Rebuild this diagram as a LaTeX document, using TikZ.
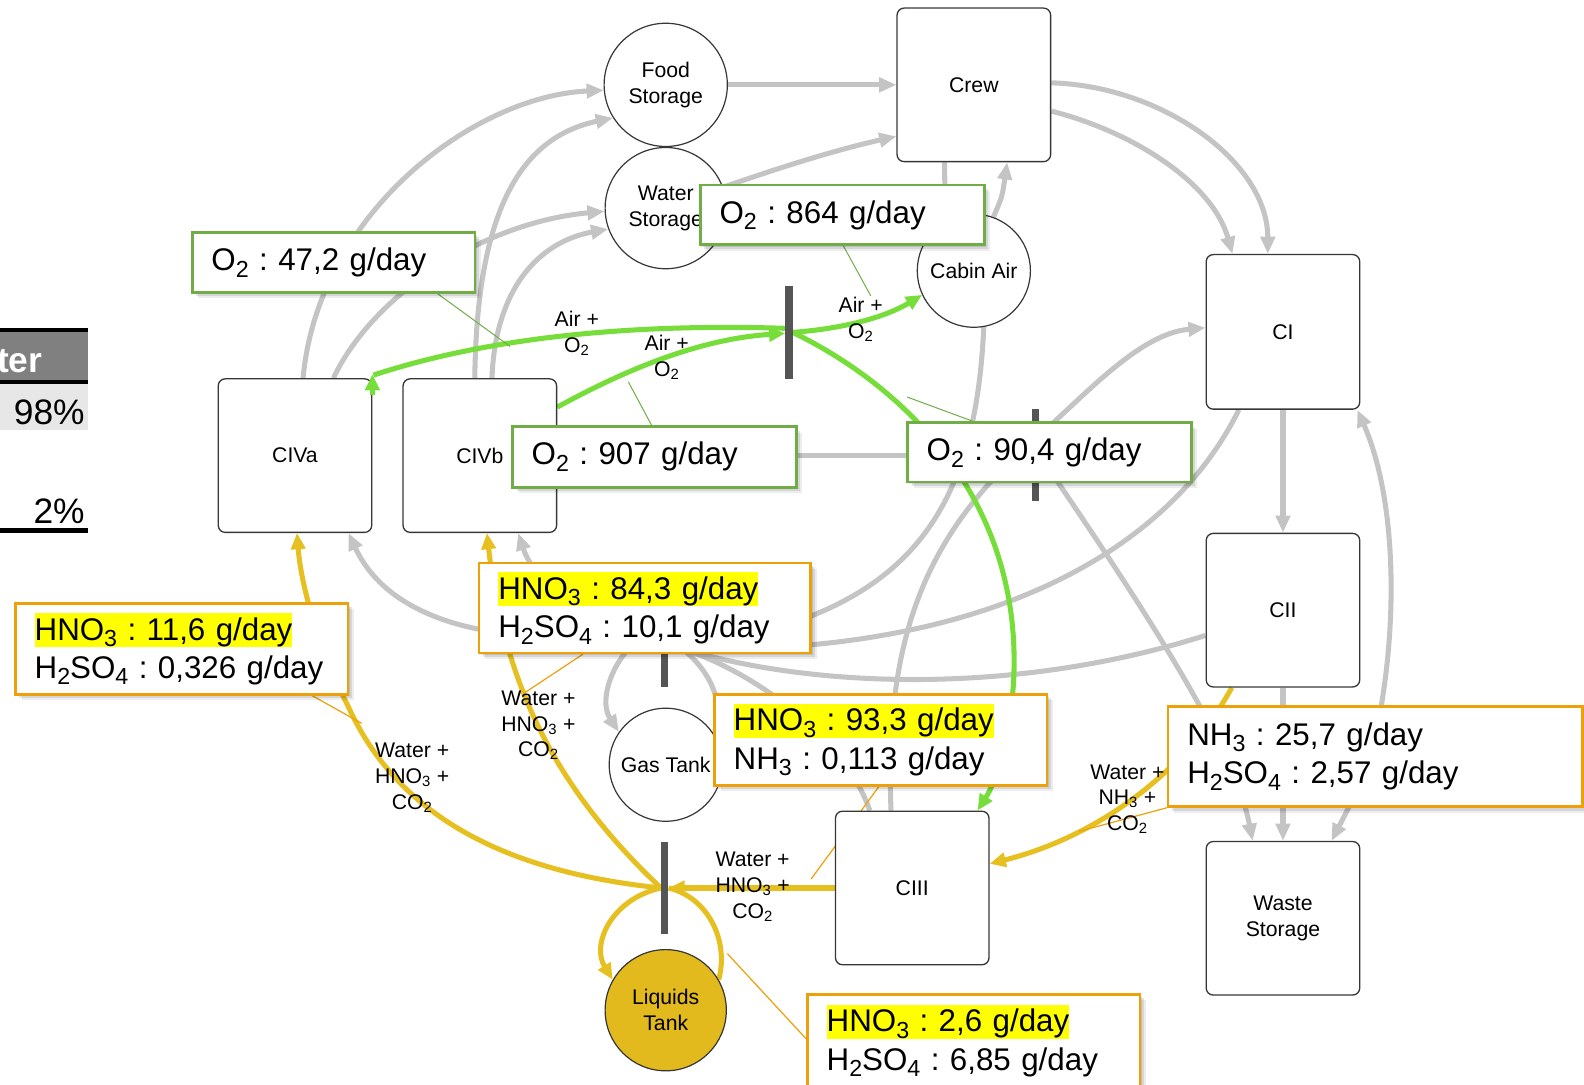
\documentclass[tikz,border=0pt]{standalone}
\usepackage{fontspec}
\setmainfont{Liberation Sans}
\usetikzlibrary{arrows.meta,calc,shadows}

\definecolor{flowgray}{RGB}{196,196,196}
\definecolor{airgreen}{RGB}{118,221,58}
\definecolor{liquidgold}{RGB}{230,192,32}
\definecolor{tankgold}{RGB}{226,186,30}
\definecolor{boxgreen}{RGB}{112,173,71}
\definecolor{boxorange}{RGB}{236,160,10}
\definecolor{markyellow}{RGB}{255,255,0}
\definecolor{barfill}{RGB}{85,85,85}
\definecolor{outline}{RGB}{55,55,55}
\definecolor{headgray}{RGB}{128,128,128}
\definecolor{rowgray}{RGB}{231,231,231}

\frenchspacing
\newcommand\calloutfont{\fontsize{31}{38}\selectfont}
\newcommand\unitfont{\fontsize{21}{26}\selectfont}
\newcommand\flowfont{\fontsize{21}{25.5}\selectfont}
\newcommand\tablefont{\fontsize{35}{40}\selectfont}
\newcommand\hlight[1]{{\setlength{\fboxsep}{0pt}\colorbox{markyellow}{\rule[-7pt]{0pt}{34pt}#1}}}
% subscripts: small ones for flow labels, larger ones for the callouts
\newcommand\chem[1]{\textsubscript{#1}}
\newcommand\csub[1]{\raisebox{-6.5pt}{\fontsize{23}{23}\selectfont #1}}

\pgfdeclarelayer{flows}
\pgfsetlayers{flows,main}

\begin{document}
\begin{tikzpicture}[x=1pt,y=-1pt,
  unit/.style={rectangle, draw=outline, line width=1.3pt, rounded corners=7pt, fill=white,
    minimum width=152pt, minimum height=152pt, inner sep=0pt, font=\unitfont, align=center},
  tank/.style={circle, draw=outline, line width=1.2pt, fill=white, inner sep=0pt,
    font=\unitfont, align=center},
  sepbar/.style={rectangle, fill=barfill, minimum width=7pt, inner sep=0pt},
  gflow/.style={draw=flowgray, line width=5pt},
  garr/.style={gflow, -{Triangle[length=17pt,width=14pt]}},
  aflow/.style={draw=airgreen, line width=5pt},
  aarr/.style={aflow, -{Triangle[length=16pt,width=14pt]}},
  lflow/.style={draw=liquidgold, line width=5pt},
  larr/.style={lflow, -{Triangle[length=16pt,width=14pt]}},
  flowlabel/.style={font=\flowfont, align=center, inner sep=0pt},
  callout/.style={rectangle, fill=white, line width=2.6pt, anchor=north west, align=left,
    inner xsep=19pt, inner ysep=0pt, font=\calloutfont,
    general shadow={shadow xshift=6pt, shadow yshift=-6pt, fill=black, opacity=0.07},
    general shadow={shadow xshift=4pt, shadow yshift=-4pt, fill=black, opacity=0.10},
    general shadow={shadow xshift=2pt, shadow yshift=-2pt, fill=black, opacity=0.10}},
  gcall/.style={callout, draw=boxgreen},
  ocall/.style={callout, draw=boxorange},
  gpointer/.style={draw=boxgreen, line width=1pt},
  opointer/.style={draw=boxorange, line width=1.2pt},
]
\useasboundingbox (0,0) rectangle (1568,1074);

% ---- table fragment on the left edge
\fill[black] (0,325) rectangle (87,329);
\fill[headgray] (0,329) rectangle (87,376);
\fill[black] (0,376) rectangle (87,380);
\fill[rowgray] (0,380) rectangle (87,426);
\fill[black] (0,523) rectangle (87,528);
\node[anchor=base east, font=\tablefont\bfseries, text=white, inner sep=0pt] (thead) at (42,369) {ter};
\node[anchor=base east, font=\tablefont, inner sep=0pt] (tvalA) at (84,420) {98\%};
\node[anchor=base east, font=\tablefont, inner sep=0pt] (tvalB) at (84,518) {2\%};

% ---- compartments and tanks
\node[unit] (CIVa) at (292,451) {CIVa};
\node[unit] (CIVb) at (475,451) {CIVb};
\node[unit] (Crew) at (964,84) {Crew};
\node[unit, minimum height=153pt] (CI) at (1270,328.5) {CI};
\node[unit] (CII) at (1270,604) {CII};
\node[unit] (Waste) at (1270,909) {Waste\\Storage};
\node[unit] (CIII) at (903,879) {CIII};
\node[tank, minimum size=122pt] (Food) at (659,84) {Food\\Storage};
\node[tank, minimum size=120pt] (Water) at (659,206) {Water\\Storage};
\node[tank, minimum size=112pt] (Cabin) at (964,268) {Cabin Air};
\node[tank, minimum size=112pt] (Gas) at (659,757) {Gas Tank};
\node[tank, minimum size=120pt, fill=tankgold] (Liquids) at (659,1000) {Liquids\\Tank};

% ---- separators
\node[sepbar, minimum height=92pt] (bar1) at (781,329) {};
\node[sepbar, minimum height=91pt] (bar2) at (1025,450) {};
\node[sepbar, minimum height=60pt] (bar3) at (658,650) {};
\node[sepbar, minimum height=92pt] (bar4) at (658,879) {};

\coordinate (hub3) at (675,642);
\coordinate (rjoin) at (1356,752);

\begin{pgfonlayer}{flows}
  % gray flows
  \draw[garr] (Food.east) -- (Crew.west |- Food.east);
  \draw[garr] (Water.20) .. controls (760,170) and (820,150) .. ($(Crew.west)+(0,51)$);
  \draw[garr] ($(CIVa.north)+(8,0)$) .. controls (315,210) and (470,95) .. (Food.185);
  \draw[garr] ($(CIVa.north)+(38,0)$) .. controls (370,290) and (480,220) .. (Water.183);
  \draw[garr] ($(CIVb.north)+(-5,0)$) .. controls (472,200) and (520,135) .. (Food.212);
  \draw[garr] ($(CIVb.north)+(12,0)$) .. controls (490,290) and (530,240) .. (Water.200);
  \draw[garr] ($(Crew.east)+(0,-2)$) .. controls (1150,85) and (1255,160) .. ($(CI.north)+(-15,0)$);
  \draw[garr] ($(Crew.east)+(0,26)$) .. controls (1120,130) and (1200,180) .. ($(CI.north)+(-50,0)$);
  \draw[garr] (Cabin.70) .. controls (992,195) .. ($(Crew.south)+(33,0)$);
  \draw[gflow] ($(Crew.south)+(-29,0)$) -- (Cabin.120);
  \draw[gflow] (Cabin.-80) .. controls (965,520) and (890,610) .. (hub3);
  \draw[garr] ($(CIII.north)+(-21,0)$) .. controls (876,640) and (910,530) .. (1030,430)
              .. controls (1080,385) and (1130,330) .. ($(CI.west)+(0,-4)$);
  \draw[gflow] ($(CI.south west)+(33,0)$) .. controls (1150,560) and (950,650) .. (hub3);
  \draw[gflow] ($(CII.west)+(0,25)$) .. controls (1000,690) and (800,680) .. (hub3);
  \draw[gflow] (hub3) .. controls (760,670) and (840,740) .. ($(CIII.north)+(-42,0)$);
  \draw[garr] (bar3.north west) .. controls (612,635) and (590,690) .. (Gas.145);
  \draw[gflow] (Gas.30) .. controls (718,700) and (705,665) .. (hub3);
  \draw[garr] (bar3.north) .. controls (520,645) and (390,625) .. ($(CIVa.south)+(53,0)$);
  \draw[garr] (bar3.north) .. controls (590,620) and (530,580) .. ($(CIVb.south)+(38,0)$);
  \draw[gflow] (CIVb.east) -- (bar2.west |- CIVb.east);
  \draw[garr] (bar2.east) .. controls (1110,570) and (1220,730) .. ($(Waste.north)+(-30,0)$);
  \draw[garr] (CII.south) -- (Waste.north);
  \draw[garr] (CI.south) -- (CII.north);
  \draw[garr] (rjoin) .. controls (1385,640) and (1385,500) .. ($(CI.south east)+(-3,0)$);
  \draw[garr] (rjoin) .. controls (1340,790) .. ($(Waste.north)+(48,0)$);

  % air / oxygen flows
  \draw[aflow] ($(bar1.west)+(0,-4)$) .. controls (620,320) and (480,335) .. ($(CIVa.north east)+(1,-3)$);
  \draw[aarr] ($(CIVb.east)+(0,-48)$) .. controls (630,360) and (700,335) .. ($(bar1.west)+(0,1)$);
  \draw[aarr] (bar1.east) .. controls (840,325) and (880,312) .. (Cabin.205);
  \draw[aarr] (bar1.east) .. controls (900,385) and (1015,500) .. (1003,680)
              .. controls (998,740) and (985,775) .. ($(CIII.north east)+(-12,0)$);

  % liquid flows
  \draw[larr] (bar4.west) .. controls (520,865) and (400,820) .. (345,700)
              .. controls (315,640) and (298,580) .. ($(CIVa.south)+(2,0)$);
  \draw[larr] (bar4.west) .. controls (560,790) and (500,690) .. ($(CIVb.south)+(7,0)$);
  \draw[larr] (CIII.west) -- (bar4.east);
  \draw[larr] (bar4.west) .. controls (605,890) and (585,935) .. (Liquids.150);
  \draw[lflow] (Liquids.30) .. controls (722,930) and (700,888) .. (bar4.east);
  \draw[larr] ($(CII.south west)+(26,0)$) .. controls (1170,770) and (1080,830) .. ($(CIII.east)+(0,-24)$);
\end{pgfonlayer}

% green arrowhead sitting on the corner of CIVa
\draw[aarr] ($(CIVa.north east)+(0,17)$) -- ($(CIVa.north east)+(0,-4)$);

% ---- flow labels
\node[flowlabel] (lbA) at (571,330) {Air +\\O\chem{2}};
\node[flowlabel] (lbB) at (660,354) {Air +\\O\chem{2}};
\node[flowlabel] (lbC) at (852,316) {Air +\\O\chem{2}};
\node[flowlabel] (lbD) at (408,770) {Water +\\HNO\chem{3} +\\CO\chem{2}};
\node[flowlabel] (lbE) at (533,718) {Water +\\HNO\chem{3} +\\CO\chem{2}};
\node[flowlabel] (lbF) at (745,878) {Water +\\HNO\chem{3} +\\CO\chem{2}};
\node[flowlabel] (lbG) at (1116,791) {Water +\\NH\chem{3} +\\CO\chem{2}};

% ---- mass-flow callouts
\node[gcall, minimum width=280pt, minimum height=59pt, text width=242pt] (c47) at (189,229) {O\csub{2} : 47,2 g/day};
\node[gcall, minimum width=281pt, minimum height=59pt, text width=243pt] (c864) at (692,182) {O\csub{2} : 864 g/day};
\node[gcall, minimum width=281pt, minimum height=60pt, text width=243pt] (c907) at (506,421) {O\csub{2} : 907 g/day};
\node[gcall, minimum width=281pt, minimum height=59pt, text width=243pt] (c904) at (897,417) {O\csub{2} : 90,4 g/day};
\node[ocall, minimum width=329pt, minimum height=90pt, text width=291pt] (c116) at (14,596)
  {\hlight{HNO\csub{3} : 11,6 g/day}\\H\csub{2}SO\csub{4} : 0,326 g/day};
\node[ocall, minimum width=328pt, minimum height=89pt, text width=290pt] (c843) at (473,556)
  {\hlight{HNO\csub{3} : 84,3 g/day}\\H\csub{2}SO\csub{4} : 10,1 g/day};
\node[ocall, minimum width=329pt, minimum height=90pt, text width=291pt] (c933) at (706,686)
  {\hlight{HNO\csub{3} : 93,3 g/day}\\NH\csub{3} : 0,113 g/day};
\node[ocall, minimum width=410pt, minimum height=99pt, text width=372pt] (c257) at (1155,698)
  {NH\csub{3} : 25,7 g/day\\H\csub{2}SO\csub{4} : 2,57 g/day};
\node[ocall, minimum width=329pt, minimum height=92pt, text width=291pt] (c26) at (798,983)
  {\hlight{HNO\csub{3} : 2,6 g/day}\\H\csub{2}SO\csub{4} : 6,85 g/day};

% ---- callout pointers
\coordinate (p47) at (505,343);
\coordinate (p864) at (862,293);
\coordinate (p907) at (622,378);
\coordinate (p904) at (898,393);
\coordinate (p116) at (358,716);
\coordinate (p843) at (519,686);
\coordinate (p933) at (803,870);
\coordinate (p257) at (1068,823);
\coordinate (p26) at (720,944);
\begin{pgfonlayer}{flows}
  \draw[gpointer] ($(c47.south west)+(244,0)$) -- (p47);
  \draw[gpointer] ($(c864.south west)+(143,0)$) -- (p864);
  \draw[gpointer] ($(c907.north west)+(139,0)$) -- (p907);
  \draw[gpointer] ($(c904.north west)+(66,0)$) -- (p904);
  \draw[opointer] ($(c116.south west)+(295,0)$) -- (p116);
  \draw[opointer] ($(c843.south west)+(104,0)$) -- (p843);
  \draw[opointer] ($(c933.south west)+(164,0)$) -- (p933);
  \draw[opointer] (c257.south west) -- (p257);
  \draw[opointer] ($(c26.west)+(0,-2)$) -- (p26);
\end{pgfonlayer}
\end{tikzpicture}
\end{document}
